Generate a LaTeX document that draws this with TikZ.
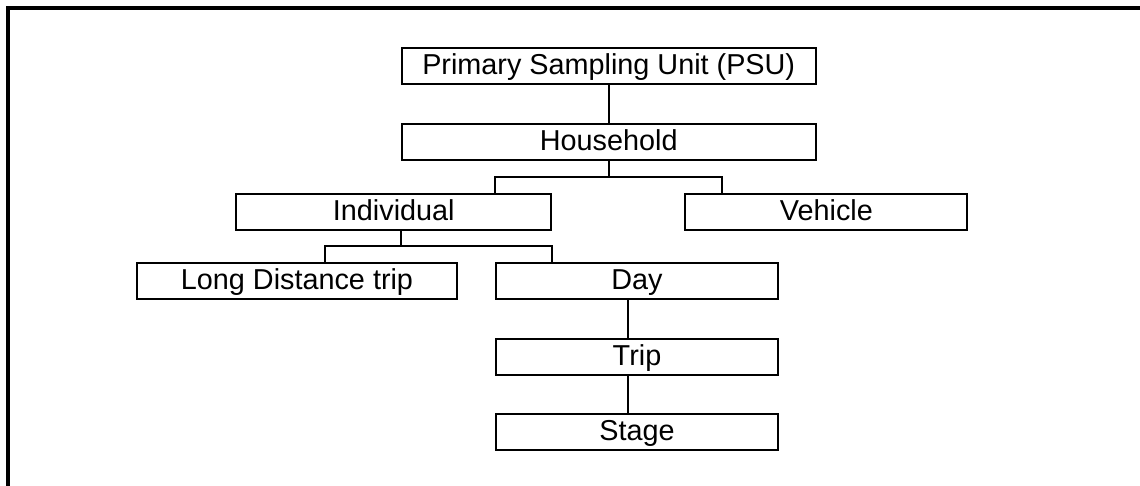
\documentclass[tikz,border=0pt]{standalone}
\usepackage{fontspec}
\setmainfont{Liberation Sans}
\begin{document}
\begin{tikzpicture}[x=1pt,y=-1pt,
  unit/.style={draw,line width=2pt,inner sep=0pt,minimum height=36pt,
    text height=18pt,text depth=0pt,
    font=\fontsize{28.8}{34}\selectfont},
  link/.style={line width=2pt}]
\useasboundingbox (0,0) rectangle (1140,485);
\draw[line width=4pt] (8,487) -- (8,8) -- (1142,8);
\node[unit,minimum width=414pt] (psu) at (608.7,65.5) {Primary Sampling Unit (PSU)};
\node[unit,minimum width=414pt] (hh) at (608.7,141.8) {Household};
\node[unit,minimum width=315pt] (ind) at (393.8,211.7) {Individual};
\node[unit,minimum width=282pt] (veh) at (826.4,211.7) {Vehicle};
\node[unit,minimum width=320.6pt] (ldt) at (297,280.8) {Long Distance trip};
\node[unit,minimum width=282.6pt] (day) at (637,280.8) {Day};
\node[unit,minimum width=282.6pt] (trip) at (637,356.5) {Trip};
\node[unit,minimum width=282.6pt] (stage) at (637,431.8) {Stage};
\draw[link] (psu) -- (hh);
\coordinate (hhj) at (608.7,176.7);
\draw[link] (hh) -- (hhj);
\draw[link] ([xshift=101.2pt]ind.north) |- (hhj) -| ([xshift=-104.7pt]veh.north);
\coordinate (indj) at (401,246);
\draw[link] ([xshift=7.2pt]ind.south) -- (indj);
\draw[link] ([xshift=28pt]ldt.north) |- (indj) -| ([xshift=-84.7pt]day.north);
\draw[link] ([xshift=-9pt]day.south) -- ([xshift=-9pt]trip.north);
\draw[link] ([xshift=-9pt]trip.south) -- ([xshift=-9pt]stage.north);
\end{tikzpicture}
\end{document}
